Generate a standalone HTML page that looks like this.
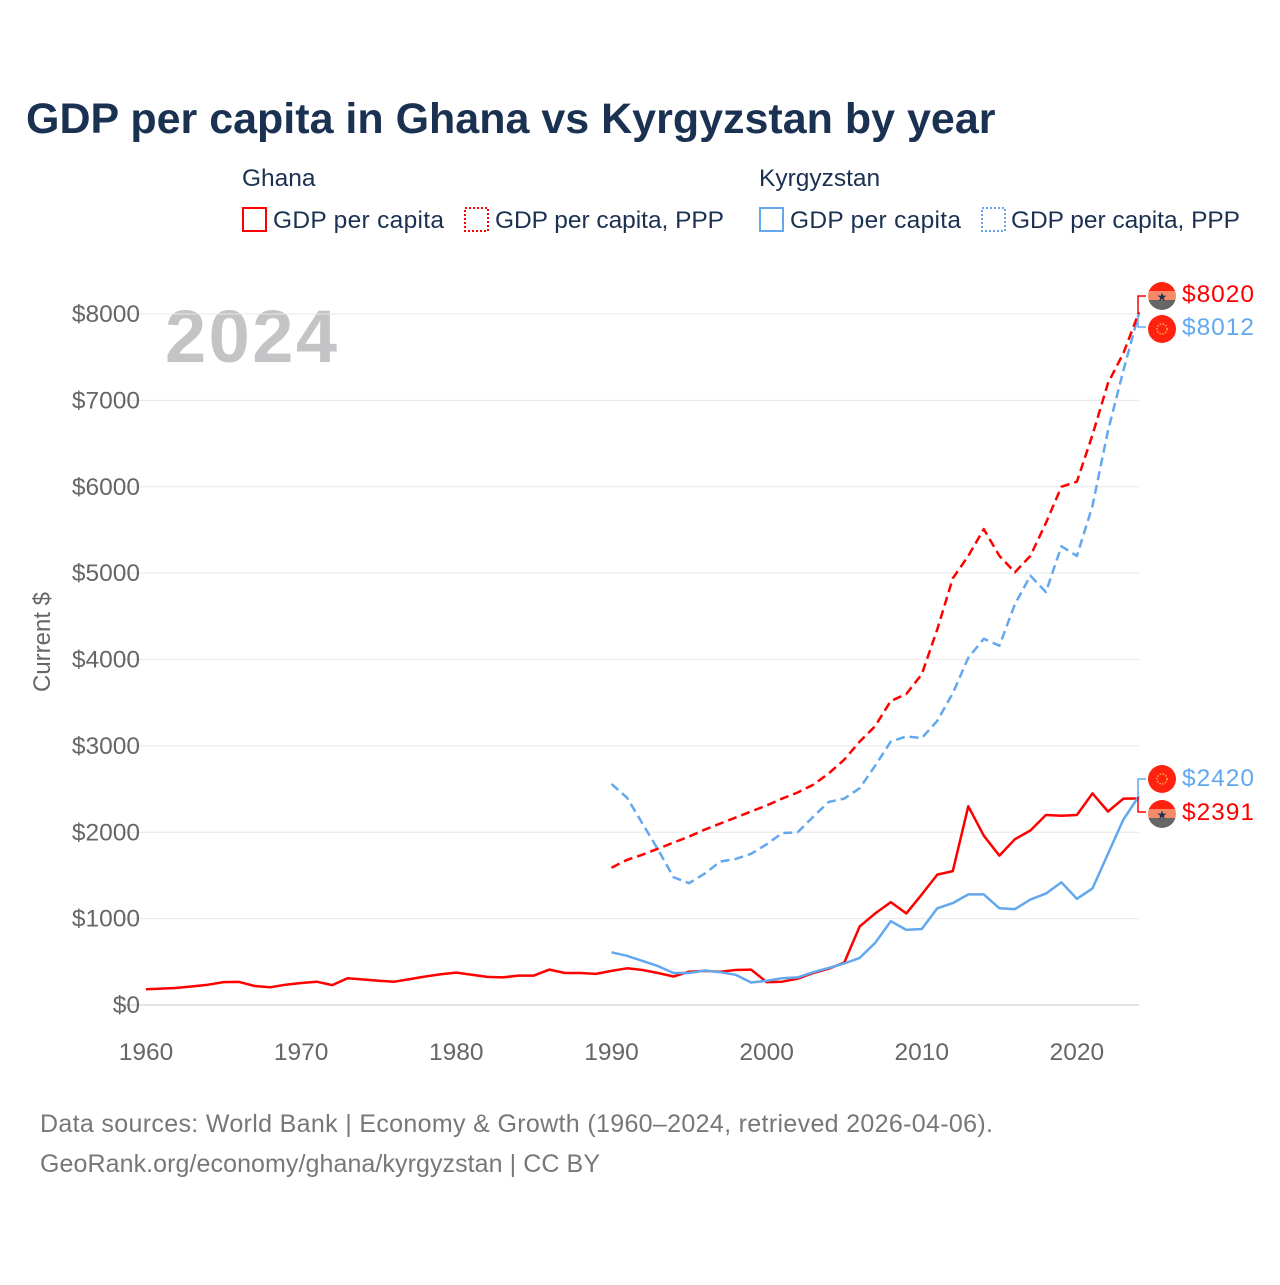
<!DOCTYPE html>
<html><head><meta charset="utf-8"><style>
body{margin:0;background:#fff;width:1280px;height:1280px;overflow:hidden;font-family:"Liberation Sans",sans-serif}
</style></head><body>
<svg id="chart" width="1280" height="1280" xmlns="http://www.w3.org/2000/svg" font-family="Liberation Sans, sans-serif">
<rect width="1280" height="1280" fill="#fff"/>
<text x="26" y="133" font-size="43" font-weight="bold" fill="#1b3152">GDP per capita in Ghana vs Kyrgyzstan by year</text>
<g font-size="24.5" fill="#1b3152">
<text x="242" y="186">Ghana</text>
<rect x="243" y="208" width="23" height="23" fill="none" stroke="#f00" stroke-width="2"/>
<text x="273" y="228" textLength="171">GDP per capita</text>
<rect x="465" y="208" width="23" height="23" fill="none" stroke="#f00" stroke-width="2" stroke-dasharray="2,2"/>
<text x="495" y="228" textLength="229">GDP per capita, PPP</text>
<text x="759" y="186">Kyrgyzstan</text>
<rect x="760" y="208" width="23" height="23" fill="none" stroke="#63a8ee" stroke-width="2"/>
<text x="790" y="228" textLength="171">GDP per capita</text>
<rect x="982" y="208" width="23" height="23" fill="none" stroke="#63a8ee" stroke-width="2" stroke-dasharray="2,2"/>
<text x="1011" y="228" textLength="229">GDP per capita, PPP</text>
</g>
<text x="165" y="362" font-size="74" font-weight="bold" fill="#c4c4c6" textLength="172">2024</text>
<text transform="translate(50,642) rotate(-90)" text-anchor="middle" font-size="24" fill="#666">Current $</text>
<g id="grid"></g><g id="xt"></g><g id="yt"></g><g id="lines"></g>
<g>
<path d="M1146,296 H1138 V314" fill="none" stroke="#f00" stroke-width="1.5"/>
<path d="M1138,316 V327 H1146" fill="none" stroke="#63a8ee" stroke-width="1.5"/>
<path d="M1146,779 H1138 V797" fill="none" stroke="#63a8ee" stroke-width="1.5"/>
<path d="M1138,797 V812 H1146" fill="none" stroke="#f00" stroke-width="1.5"/>
<g><clipPath id="c1"><circle cx="1162" cy="296" r="14"/></clipPath><g clip-path="url(#c1)"><rect x="1148" y="282" width="28" height="10" fill="#f21"/><rect x="1148" y="291" width="28" height="10" fill="#f48a6a"/><rect x="1148" y="300" width="28" height="10" fill="#666"/></g><text x="1162" y="301" font-size="12" text-anchor="middle" fill="#1b3152">★</text></g>
<circle cx="1162" cy="329" r="14" fill="#f21"/><circle cx="1162" cy="329" r="5" fill="none" stroke="#f9b040" stroke-width="1.5" stroke-dasharray="1.5,1.5"/>
<circle cx="1162" cy="779" r="14" fill="#f21"/><circle cx="1162" cy="779" r="5" fill="none" stroke="#f9b040" stroke-width="1.5" stroke-dasharray="1.5,1.5"/>
<g><clipPath id="c2"><circle cx="1162" cy="814" r="14"/></clipPath><g clip-path="url(#c2)"><rect x="1148" y="800" width="28" height="10" fill="#f21"/><rect x="1148" y="809" width="28" height="10" fill="#f48a6a"/><rect x="1148" y="818" width="28" height="10" fill="#666"/></g><text x="1162" y="819" font-size="12" text-anchor="middle" fill="#1b3152">★</text></g>
<text x="1182" y="302" font-size="24.5" fill="#f00" textLength="72">$8020</text>
<text x="1182" y="335" font-size="24.5" fill="#63a8ee" textLength="72">$8012</text>
<text x="1182" y="786" font-size="24.5" fill="#63a8ee" textLength="72">$2420</text>
<text x="1182" y="820" font-size="24.5" fill="#f00" textLength="72">$2391</text>
</g>
<text x="40" y="1132" font-size="25" fill="#777" textLength="953">Data sources: World Bank | Economy &amp; Growth (1960–2024, retrieved 2026-04-06).</text>
<text x="40" y="1172" font-size="25" fill="#777" textLength="560">GeoRank.org/economy/ghana/kyrgyzstan | CC BY</text>
</svg>
<script>
const yTicks=[0,1000,2000,3000,4000,5000,6000,7000,8000];
const xTicks=[1960,1970,1980,1990,2000,2010,2020];
const ghanaGdp=[183,190,198,215,235,265,268,220,205,235,255,270,230,310,295,280,270,300,330,355,375,350,325,320,340,340,410,370,370,360,395,425,405,370,330,385,395,385,405,410,265,270,305,370,420,490,910,1060,1190,1060,1280,1510,1550,2300,1960,1730,1920,2020,2200,2190,2200,2450,2240,2390,2391];
const kyrGdp=[610,570,510,450,370,370,400,380,350,260,280,310,320,380,430,480,545,720,970,870,880,1120,1180,1280,1280,1120,1110,1220,1290,1420,1230,1350,1750,2150,2420];
const ghanaPpp=[1590,1680,1740,1810,1880,1950,2030,2100,2170,2240,2310,2390,2460,2550,2680,2840,3050,3230,3520,3600,3830,4350,4940,5200,5510,5200,5010,5200,5580,6000,6060,6600,7200,7550,8020];
const kyrPpp=[2560,2400,2100,1800,1480,1410,1520,1660,1690,1750,1860,1990,2000,2180,2350,2390,2510,2770,3050,3110,3090,3290,3610,4020,4240,4160,4640,4970,4780,5310,5200,5780,6650,7350,8012];
const NS="http://www.w3.org/2000/svg";
const x=yr=>146+(yr-1960)*(1139-146)/64;
const y=v=>1005-v*(1005-314)/8000;
function mk(t,a,p){const e=document.createElementNS(NS,t);for(const k in a)e.setAttribute(k,a[k]);document.getElementById(p).appendChild(e);return e;}
yTicks.forEach(v=>{
 const g=mk('line',{x1:120,x2:1139,y1:y(v),y2:y(v),stroke:v===0?'#e4e4e4':'#e8e8e8','stroke-width':v===0?2:1},'grid');
 
 
 const t=mk('text',{x:140,y:y(v)+8,'text-anchor':'end','font-size':24.5,fill:'#666'},'yt');
 t.textContent='$'+v;
 
 
});
xTicks.forEach(yr=>{
 const t=mk('text',{x:x(yr),y:1060,'text-anchor':'middle','font-size':24.5,fill:'#666'},'xt');
 t.textContent=yr;
 
 
});
function line(data,start,color,dash,name){
 const d=data.map((v,i)=>(i?'L':'M')+x(start+i).toFixed(1)+','+y(v).toFixed(1)).join(' ');
 const a={d:d,fill:'none',stroke:color,'stroke-width':2.5,'stroke-linejoin':'round'};
 if(dash)a['stroke-dasharray']='9,5';
 const p=mk('path',a,'lines');
 
 
}
line(ghanaGdp,1960,'#f00',false,'ghana-gdp-line');
line(kyrGdp,1990,'#63a8ee',false,'kyrgyz-gdp-line');
line(kyrPpp,1990,'#63a8ee',true,'kyrgyz-ppp-line');
line(ghanaPpp,1990,'#f00',true,'ghana-ppp-line');
</script>
</body></html>
